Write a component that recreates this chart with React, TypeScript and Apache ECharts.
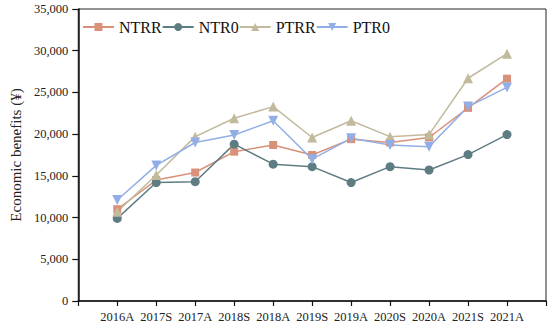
import React, { useEffect, useRef } from "react";
import * as echarts from "echarts";

const categories = ["2016A", "2017S", "2017A", "2018S", "2018A", "2019S", "2019A", "2020S", "2020A", "2021S", "2021A"];
const ntrr = [11000, 14500, 15400, 17900, 18700, 17500, 19400, 19000, 19600, 23150, 26650];
const ntr0 = [9900, 14200, 14300, 18800, 16400, 16100, 14200, 16100, 15700, 17550, 19950];
const ptrr = [10700, 15100, 19700, 21900, 23300, 19600, 21600, 19700, 19950, 26700, 29650];
const ptr0 = [12100, 16250, 19000, 19900, 21600, 17000, 19500, 18700, 18500, 23300, 25600];
const yTicks = [0, 5000, 10000, 15000, 20000, 25000, 30000, 35000];

const FONT = "'Times New Roman', 'Liberation Serif', Times, serif";

export default function App() {
  const ref = useRef<HTMLDivElement>(null);
  useEffect(() => {
    if (!ref.current) return;
    const chart = echarts.init(ref.current, null, { renderer: "svg" });
    const toPairs = (arr: number[]) => arr.map((v, i) => [i + 1, v]);
    const mk = (name: string, data: number[], color: string, symbol: string, size: number) => ({
      name,
      type: "line",
      data: toPairs(data),
      symbol,
      symbolSize: size,
      lineStyle: { color, width: 1.5 },
      itemStyle: { color },
      z: 3,
    });
    chart.setOption({
      animation: false,
      textStyle: { fontFamily: FONT },
      grid: { left: 66, right: 4, top: 9, bottom: 24, show: true, borderColor: "#222", borderWidth: 1 },
      legend: {
        left: 77,
        top: 14,
        itemWidth: 31,
        itemHeight: 10,
        itemGap: 0,
        textStyle: { fontFamily: FONT, fontSize: 16, color: "#111" },
        data: ["NTRR", "NTR0", "PTRR", "PTR0"],
      },
      xAxis: {
        type: "value",
        min: 0,
        max: categories.length + 1,
        interval: 1,
        axisLine: { show: true, lineStyle: { color: "#111", width: 1.5 } },
        axisTick: { show: true, length: 5, lineStyle: { color: "#111", width: 1.2 } },
        axisLabel: {
          fontFamily: FONT,
          fontSize: 12.5,
          color: "#222",
          margin: 9,
          showMinLabel: true,
          showMaxLabel: true,
          formatter: (v: number) => categories[v - 1] ?? "",
        },
        splitLine: { show: false },
      },
      yAxis: {
        type: "value",
        min: yTicks[0],
        max: yTicks[yTicks.length - 1],
        interval: 5000,
        name: "Economic benefits (¥)",
        nameLocation: "middle",
        nameGap: 53,
        nameTextStyle: { fontFamily: FONT, fontSize: 15, color: "#222" },
        axisLine: { show: true, lineStyle: { color: "#111", width: 1.5 } },
        axisTick: { show: true, length: 6, lineStyle: { color: "#111", width: 1.2 } },
        axisLabel: {
          fontFamily: FONT,
          fontSize: 12.5,
          color: "#222",
          margin: 10,
          formatter: (v: number) => v.toLocaleString("en-US"),
        },
        splitLine: { show: false },
      },
      series: [
        mk("NTRR", ntrr, "#D9917A", "rect", 8),
        mk("NTR0", ntr0, "#5E7D82", "circle", 9),
        mk("PTRR", ptrr, "#C2BA9C", "triangle", 10),
        mk("PTR0", ptr0, "#92AEE6", "path://M0,0 L10,0 L5,9 Z", 10),
      ],
    });
    return () => chart.dispose();
  }, []);
  return <div ref={ref} style={{ width: 550, height: 325, position: "absolute", left: 0, top: 0 }} />;
}
